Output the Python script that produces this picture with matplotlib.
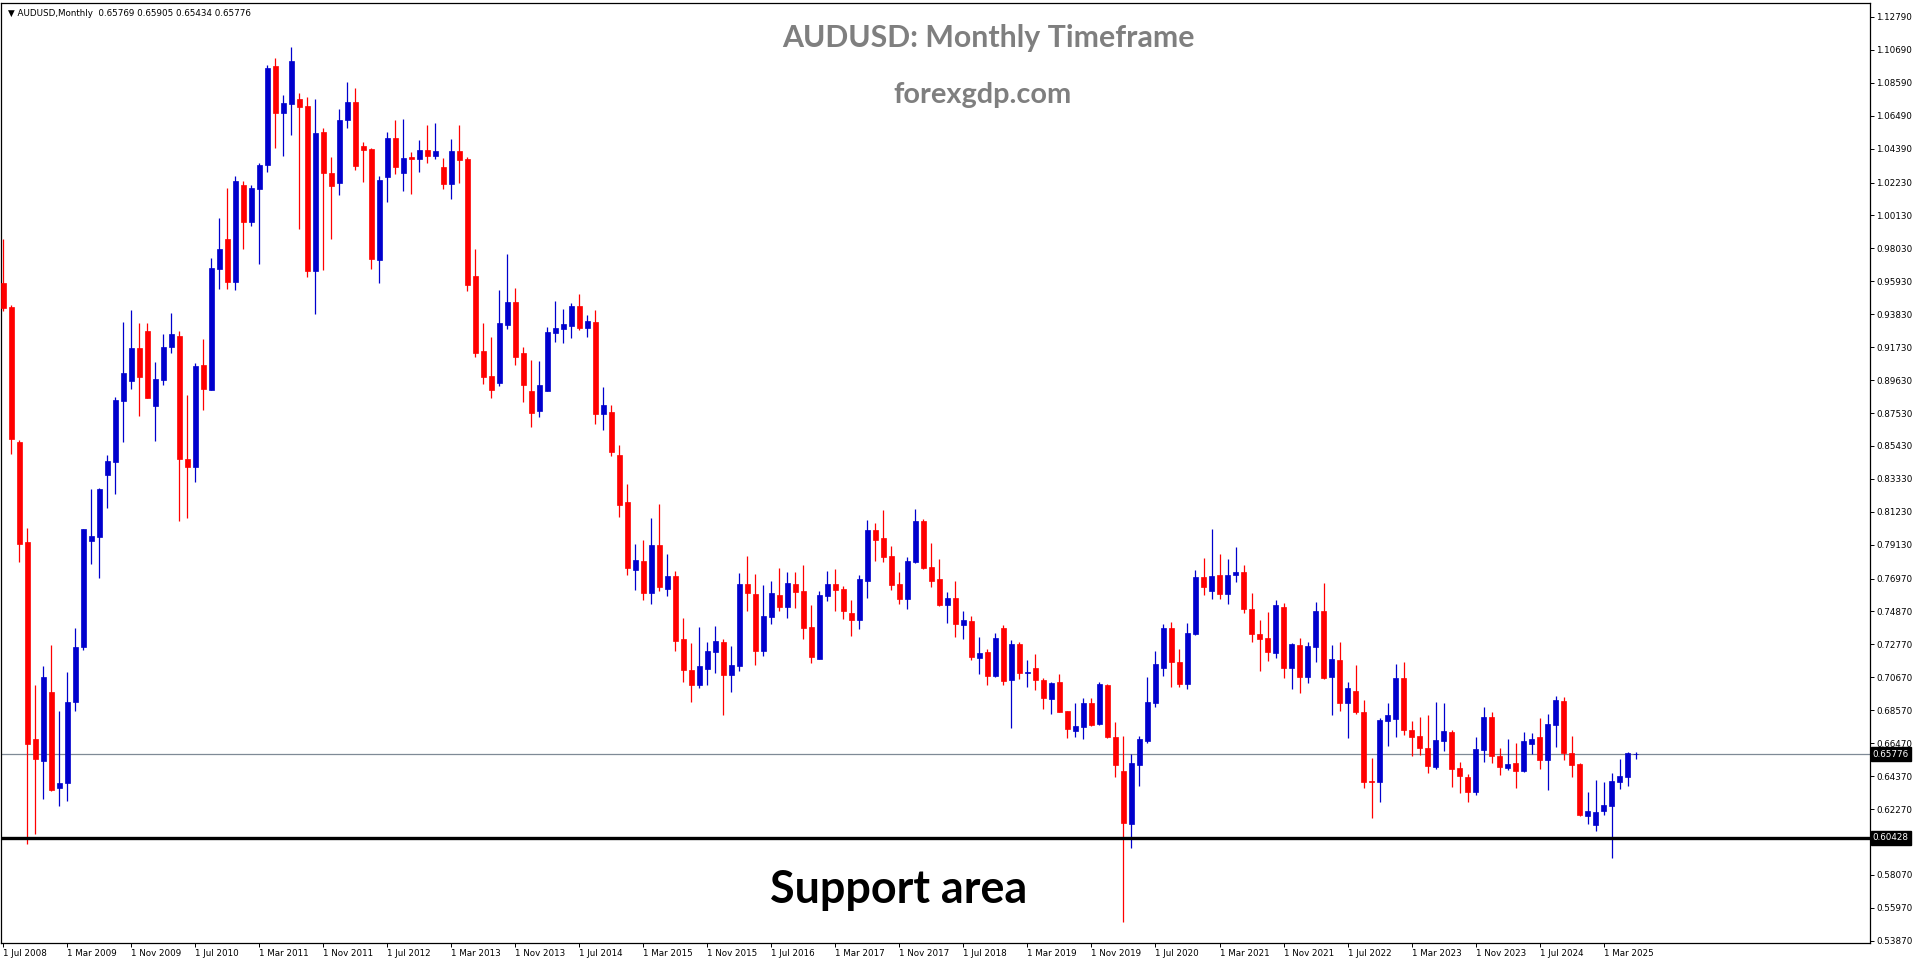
"""AUDUSD monthly candles, MT4 look (forexgdp.com style chart)."""
import matplotlib
matplotlib.use("Agg")
import matplotlib.pyplot as plt
from matplotlib.transforms import blended_transform_factory

# monthly OHLC, Jul 2008 .. Jul 2025
opens = [
    0.9585, 0.9428, 0.8569, 0.7929, 0.6676, 0.6533, 0.6971, 0.6362, 0.6393, 0.6909,
    0.7260, 0.7938, 0.7963, 0.8358, 0.8440, 0.8830, 0.8956, 0.9167, 0.9274, 0.8799,
    0.8962, 0.9176, 0.9243, 0.8457, 0.8406, 0.9058, 0.8898, 0.9670, 0.9860, 0.9588,
    1.0206, 0.9973, 1.0183, 1.0334, 1.0965, 1.0667, 1.0724, 1.0754, 1.0709, 0.9659,
    1.0544, 1.0282, 1.0221, 1.0622, 1.0735, 1.0455, 1.0435, 0.9730, 1.0259, 1.0506,
    1.0284, 1.0384, 1.0374, 1.0429, 1.0393, 1.0321, 1.0214, 1.0423, 1.0372, 0.9625,
    0.9147, 0.8988, 0.8943, 0.9315, 0.9460, 0.9134, 0.8892, 0.8767, 0.8894, 0.9264,
    0.9290, 0.9307, 0.9434, 0.9294, 0.9332, 0.8748, 0.8758, 0.8484, 0.8184, 0.7751,
    0.7808, 0.7604, 0.7910, 0.7629, 0.7712, 0.7311, 0.7113, 0.7017, 0.7119, 0.7228,
    0.7292, 0.7081, 0.7139, 0.7661, 0.7597, 0.7234, 0.7451, 0.7591, 0.7515, 0.7661,
    0.7617, 0.7387, 0.7183, 0.7585, 0.7661, 0.7629, 0.7476, 0.7434, 0.7683, 0.8006,
    0.7955, 0.7840, 0.7661, 0.7568, 0.7802, 0.8063, 0.7770, 0.7693, 0.7529, 0.7572,
    0.7400, 0.7425, 0.7192, 0.7228, 0.7077, 0.7381, 0.7051, 0.7279, 0.7096, 0.7126,
    0.7049, 0.6930, 0.7036, 0.6851, 0.6722, 0.6752, 0.6902, 0.6769, 0.7017, 0.6686,
    0.6469, 0.6133, 0.6509, 0.6660, 0.6905, 0.7128, 0.7381, 0.7164, 0.7026, 0.7345,
    0.7706, 0.7619, 0.7719, 0.7600, 0.7721, 0.7738, 0.7502, 0.7345, 0.7317, 0.7224,
    0.7515, 0.7128, 0.7274, 0.7070, 0.7262, 0.7489, 0.7070, 0.7179, 0.6905, 0.6981,
    0.6847, 0.6407, 0.6401, 0.6790, 0.6803, 0.7062, 0.6730, 0.6692, 0.6616, 0.6497,
    0.6663, 0.6718, 0.6488, 0.6431, 0.6335, 0.6605, 0.6813, 0.6567, 0.6488, 0.6520,
    0.6471, 0.6643, 0.6686, 0.6541, 0.6765, 0.6915, 0.6584, 0.6516, 0.6184, 0.6127,
    0.6216, 0.6248, 0.6401, 0.6433, 0.65769,
]
highs = [
    0.9860, 0.9440, 0.8583, 0.8021, 0.7016, 0.7142, 0.7272, 0.6850, 0.7098, 0.7384,
    0.8016, 0.8266, 0.8275, 0.8482, 0.8852, 0.9333, 0.9409, 0.9324, 0.9330, 0.9077,
    0.9254, 0.9394, 0.9279, 0.8867, 0.9069, 0.9223, 0.9740, 0.9999, 1.0189, 1.0262,
    1.0231, 1.0206, 1.0345, 1.0970, 1.1016, 1.0780, 1.1086, 1.0793, 1.0767, 1.0754,
    1.0569, 1.0384, 1.0690, 1.0863, 1.0824, 1.0480, 1.0445, 1.0263, 1.0544, 1.0620,
    1.0627, 1.0416, 1.0493, 1.0588, 1.0601, 1.0378, 1.0499, 1.0588, 1.0384, 0.9798,
    0.9326, 0.9236, 0.9536, 0.9766, 0.9549, 0.9173, 0.9090, 0.9084, 0.9300, 0.9466,
    0.9415, 0.9453, 0.9511, 0.9377, 0.9409, 0.8918, 0.8803, 0.8548, 0.8299, 0.7916,
    0.7942, 0.8082, 0.8171, 0.7853, 0.7744, 0.7444, 0.7285, 0.7387, 0.7292, 0.7394,
    0.7311, 0.7266, 0.7731, 0.7840, 0.7725, 0.7655, 0.7681, 0.7763, 0.7738, 0.7738,
    0.7782, 0.7527, 0.7617, 0.7744, 0.7757, 0.7649, 0.7559, 0.7719, 0.8069, 0.8050,
    0.8133, 0.7904, 0.7738, 0.7834, 0.8140, 0.8076, 0.7923, 0.7821, 0.7610, 0.7680,
    0.7489, 0.7457, 0.7323, 0.7247, 0.7349, 0.7400, 0.7304, 0.7291, 0.7177, 0.7217,
    0.7064, 0.7035, 0.7089, 0.6855, 0.6905, 0.6934, 0.6934, 0.7036, 0.7024, 0.6781,
    0.6692, 0.6579, 0.6692, 0.7068, 0.7234, 0.7406, 0.7419, 0.7247, 0.7413, 0.7751,
    0.7827, 0.8012, 0.7853, 0.7821, 0.7897, 0.7783, 0.7604, 0.7432, 0.7483, 0.7559,
    0.7540, 0.7287, 0.7319, 0.7294, 0.7547, 0.7668, 0.7274, 0.7294, 0.7039, 0.7147,
    0.6924, 0.6554, 0.6809, 0.6905, 0.7153, 0.7164, 0.6788, 0.6813, 0.6826, 0.6909,
    0.6903, 0.6730, 0.6526, 0.6450, 0.6686, 0.6877, 0.6845, 0.6616, 0.6673, 0.6648,
    0.6718, 0.6711, 0.6807, 0.6832, 0.6947, 0.6941, 0.6692, 0.6522, 0.6335, 0.6412,
    0.6399, 0.6456, 0.6548, 0.6592, 0.65905,
]
lows = [
    0.9403, 0.8490, 0.7802, 0.6005, 0.6070, 0.6291, 0.6339, 0.6247, 0.6280, 0.6853,
    0.7241, 0.7788, 0.7698, 0.8150, 0.8235, 0.8566, 0.8906, 0.8734, 0.8847, 0.8575,
    0.8931, 0.9136, 0.8063, 0.8083, 0.8313, 0.8771, 0.8898, 0.9543, 0.9543, 0.9538,
    0.9801, 0.9948, 0.9703, 1.0290, 1.0444, 1.0393, 1.0527, 0.9925, 0.9621, 0.9385,
    0.9666, 0.9861, 1.0144, 1.0571, 1.0304, 1.0227, 0.9672, 0.9583, 1.0097, 1.0278,
    1.0168, 1.0151, 1.0291, 1.0348, 1.0374, 1.0180, 1.0116, 1.0219, 0.9532, 0.9109,
    0.8939, 0.8847, 0.8926, 0.9290, 0.9060, 0.8824, 0.8665, 0.8728, 0.8894, 0.9207,
    0.9200, 0.9230, 0.9281, 0.9236, 0.8684, 0.8643, 0.8480, 0.8091, 0.7721, 0.7623,
    0.7559, 0.7534, 0.7617, 0.7585, 0.7234, 0.7036, 0.6909, 0.6998, 0.7017, 0.7094,
    0.6826, 0.6973, 0.7106, 0.7489, 0.7145, 0.7202, 0.7406, 0.7489, 0.7444, 0.7508,
    0.7311, 0.7157, 0.7183, 0.7553, 0.7489, 0.7438, 0.7330, 0.7377, 0.7574, 0.7810,
    0.7804, 0.7625, 0.7536, 0.7504, 0.7797, 0.7757, 0.7644, 0.7525, 0.7415, 0.7325,
    0.7313, 0.7179, 0.7090, 0.7019, 0.7070, 0.7019, 0.6745, 0.7058, 0.7007, 0.6987,
    0.6866, 0.6834, 0.6843, 0.6681, 0.6688, 0.6675, 0.6758, 0.6764, 0.6683, 0.6433,
    0.5508, 0.5980, 0.6375, 0.6649, 0.6879, 0.7077, 0.7007, 0.7007, 0.6994, 0.7338,
    0.7593, 0.7568, 0.7568, 0.7536, 0.7676, 0.7479, 0.7294, 0.7107, 0.7172, 0.7192,
    0.7064, 0.6994, 0.6968, 0.7032, 0.7166, 0.7058, 0.6828, 0.6854, 0.6681, 0.6834,
    0.6363, 0.6171, 0.6273, 0.6630, 0.6688, 0.6701, 0.6567, 0.6573, 0.6458, 0.6484,
    0.6599, 0.6369, 0.6331, 0.6273, 0.6318, 0.6529, 0.6522, 0.6446, 0.6477, 0.6363,
    0.6465, 0.6579, 0.6484, 0.6350, 0.6624, 0.6541, 0.6433, 0.6184, 0.6133, 0.6088,
    0.6190, 0.5916, 0.6356, 0.6375, 0.65434,
]
closes = [
    0.9422, 0.8588, 0.7920, 0.6643, 0.6547, 0.7067, 0.6351, 0.6396, 0.6912, 0.7263,
    0.8010, 0.7969, 0.8267, 0.8445, 0.8833, 0.9007, 0.9167, 0.8982, 0.8847, 0.8968,
    0.9173, 0.9254, 0.8457, 0.8406, 0.9052, 0.8903, 0.9675, 0.9796, 0.9588, 1.0231,
    0.9973, 1.0187, 1.0334, 1.0955, 1.0667, 1.0729, 1.0996, 1.0703, 0.9659, 1.0537,
    1.0284, 1.0202, 1.0620, 1.0735, 1.0329, 1.0431, 0.9736, 1.0238, 1.0506, 1.0323,
    1.0378, 1.0374, 1.0429, 1.0393, 1.0423, 1.0214, 1.0423, 1.0365, 0.9568, 0.9134,
    0.8981, 0.8901, 0.9326, 0.9460, 0.9111, 0.8932, 0.8754, 0.8930, 0.9268, 0.9294,
    0.9320, 0.9438, 0.9294, 0.9339, 0.8748, 0.8803, 0.8505, 0.8165, 0.7766, 0.7814,
    0.7604, 0.7910, 0.7642, 0.7712, 0.7298, 0.7113, 0.7017, 0.7138, 0.7234, 0.7298,
    0.7081, 0.7145, 0.7661, 0.7604, 0.7234, 0.7457, 0.7604, 0.7515, 0.7668, 0.7610,
    0.7381, 0.7196, 0.7591, 0.7661, 0.7623, 0.7489, 0.7432, 0.7693, 0.8006, 0.7944,
    0.7836, 0.7655, 0.7568, 0.7808, 0.8063, 0.7763, 0.7683, 0.7529, 0.7572, 0.7408,
    0.7432, 0.7198, 0.7221, 0.7077, 0.7317, 0.7045, 0.7279, 0.7096, 0.7100, 0.7051,
    0.6937, 0.7030, 0.6847, 0.6739, 0.6756, 0.6902, 0.6764, 0.7024, 0.6688, 0.6507,
    0.6139, 0.6520, 0.6673, 0.6909, 0.7151, 0.7381, 0.7166, 0.7026, 0.7349, 0.7706,
    0.7644, 0.7712, 0.7600, 0.7719, 0.7738, 0.7504, 0.7345, 0.7313, 0.7230, 0.7527,
    0.7128, 0.7281, 0.7070, 0.7268, 0.7489, 0.7064, 0.7185, 0.6905, 0.6999, 0.6847,
    0.6401, 0.6401, 0.6796, 0.6828, 0.7064, 0.6732, 0.6688, 0.6618, 0.6503, 0.6667,
    0.6724, 0.6484, 0.6439, 0.6335, 0.6609, 0.6813, 0.6567, 0.6497, 0.6514, 0.6471,
    0.6660, 0.6673, 0.6541, 0.6769, 0.6922, 0.6586, 0.6509, 0.6190, 0.6214, 0.6207,
    0.6252, 0.6405, 0.6439, 0.6586, 0.65776,
]

# one date label every 8 bars, starting at the first bar
date_labels = [
    "1 Jul 2008", "1 Mar 2009", "1 Nov 2009", "1 Jul 2010", "1 Mar 2011",
    "1 Nov 2011", "1 Jul 2012", "1 Mar 2013", "1 Nov 2013", "1 Jul 2014",
    "1 Mar 2015", "1 Nov 2015", "1 Jul 2016", "1 Mar 2017", "1 Nov 2017",
    "1 Jul 2018", "1 Mar 2019", "1 Nov 2019", "1 Jul 2020", "1 Mar 2021",
    "1 Nov 2021", "1 Jul 2022", "1 Mar 2023", "1 Nov 2023", "1 Jul 2024",
    "1 Mar 2025",
]
price_levels = [
    1.12790, 1.10690, 1.08590, 1.06490, 1.04390, 1.02230, 1.00130, 0.98030,
    0.95930, 0.93830, 0.91730, 0.89630, 0.87530, 0.85430, 0.83330, 0.81230,
    0.79130, 0.76970, 0.74870, 0.72770, 0.70670, 0.68570, 0.66470, 0.64370,
    0.62270, 0.60170, 0.58070, 0.55970, 0.53870,
]
current_price = 0.65776
support_price = 0.60428

BULL = "#0000CD"
BEAR = "#FF0000"
W, H, DPI = 1916, 964, 100

fig = plt.figure(figsize=(W / DPI, H / DPI), dpi=DPI)
fig.patch.set_facecolor("white")
# plot frame in pixels: x 1..1870, y 3..943
ax = fig.add_axes([1 / W, (H - 943) / H, 1869 / W, 940 / H])

n = len(opens)
idx = list(range(n))
colors = [BULL if c >= o else BEAR for o, c in zip(opens, closes)]
ax.vlines(idx, lows, highs, colors=colors, linewidth=0.9, zorder=3)
bottoms = [min(o, c) for o, c in zip(opens, closes)]
heights = [max(abs(c - o), 0.00025) for o, c in zip(opens, closes)]
ax.bar(idx, heights, bottom=bottoms, width=0.56, color=colors,
       edgecolor=colors, linewidth=0.5, zorder=4)

ax.axhline(current_price, color="#7f8a96", linewidth=0.9, zorder=2)
ax.axhline(support_price, color="black", linewidth=2.4, zorder=5)

ax.set_xlim(-0.29, 233.3)
ax.set_ylim(0.53723, 1.13683)

tick_font = dict(family="DejaVu Sans", size=6.3)
ax.set_xticks([8 * k for k in range(len(date_labels))])
ax.set_xticklabels(date_labels, ha="left", **tick_font)
ax.tick_params(axis="x", direction="out", length=3, width=0.7, pad=1.5)
ax.yaxis.tick_right()
ax.set_yticks(price_levels)
ax.set_yticklabels([f"{p:.5f}" for p in price_levels], **tick_font)
ax.tick_params(axis="y", direction="out", length=3, width=0.7, pad=1.5)
for s in ax.spines.values():
    s.set_linewidth(0.9)
    s.set_color("black")

# price boxes on the right scale (the support box hides the 0.60170 label, as in MT4)
trans = blended_transform_factory(ax.transAxes, ax.transData)
for p in (current_price, support_price):
    ax.text(1.0015, p, f"{p:.5f}", transform=trans, ha="left", va="center",
            color="white", fontsize=6.3, family="DejaVu Sans", zorder=10,
            bbox=dict(boxstyle="square,pad=0.25", facecolor="black",
                      edgecolor="black"), clip_on=False)

ax.text(0.0035, 0.9885, "\u25bc AUDUSD,Monthly  0.65769 0.65905 0.65434 0.65776",
        transform=ax.transAxes, ha="left", va="center", fontsize=6.3,
        family="DejaVu Sans", color="black")

fig.text(0.5157, 0.9606, "AUDUSD: Monthly Timeframe", ha="center", va="center",
         fontsize=21.8, fontweight="bold", family="Lato", color="#7f7f7f")
fig.text(0.5130, 0.9015, "forexgdp.com", ha="center", va="center",
         fontsize=20.8, fontweight="bold", family="Lato", color="#7f7f7f")
ax.text(0.4805, 0.056, "Support area", transform=ax.transAxes, ha="center",
        va="center", fontsize=32.3, fontweight="bold", family="Lato", color="black")

fig.savefig("out.png", dpi=DPI, facecolor="white")
